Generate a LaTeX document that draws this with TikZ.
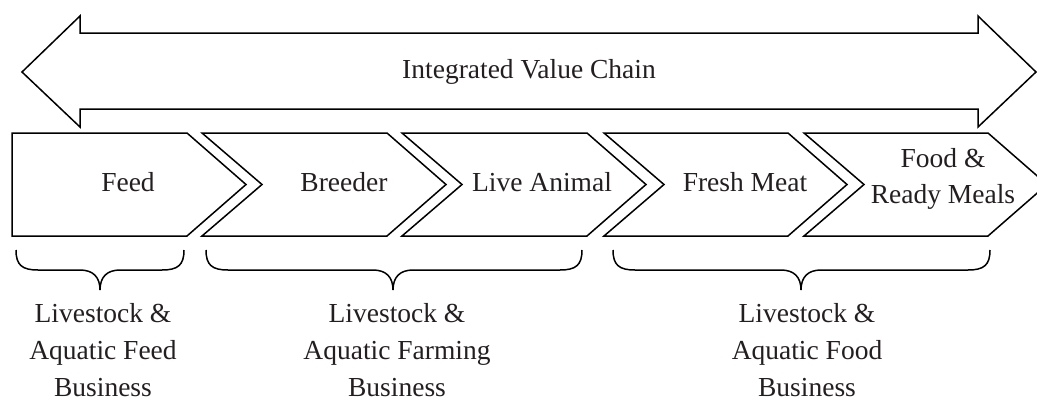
\documentclass[tikz,border=0pt]{standalone}
\usepackage{fontspec}
\setmainfont{Liberation Serif}
\definecolor{txtgray}{HTML}{231F20}
\begin{document}
\begin{tikzpicture}[x=1pt,y=-1pt,line width=1.5pt,line join=miter,
  stage/.style={font=\fontsize{27.5}{36}\selectfont,text=txtgray,align=center},
  biz/.style={font=\fontsize{27.5}{37}\selectfont,text=txtgray,align=center,inner sep=0pt}]
\useasboundingbox (0,0) rectangle (1037,402);
\clip (0,0) rectangle (1037,402);

% double arrow on top
\draw (22,72) -- (80,16) -- (80,33) -- (978,33) -- (978,16) -- (1036,72)
  -- (978,127) -- (978,109) -- (80,109) -- (80,127) -- cycle;
\node[stage] (chain) at (529,72) {Integrated Value Chain};

% chevrons
\draw (12,133) -- (187,133) -- (246,184.5) -- (187,236) -- (12,236) -- cycle;
\foreach \l/\r in {202/387, 402/587, 604/788, 804/988}
  \draw (\l,133) -- (\r,133) -- (\r+59,184.5) -- (\r,236) -- (\l,236) -- (\l+60,184.5) -- cycle;

\node[stage,anchor=base] (feed) at (128,191.5) {Feed};
\node[stage,anchor=base] (breeder) at (344,191.5) {Breeder};
\node[stage,anchor=base] (live) at (542,191) {Live Animal};
\node[stage,anchor=base] (meat) at (745,191) {Fresh Meat};
\node[stage] (meals) at (943,179) {Food \&\\Ready Meals};

% braces
\foreach \a/\m/\b in {16/100/184, 206/393/582, 613/801/990}
  \draw (\a,250) .. controls (\a,265) and (\a+6,270) .. (\a+22,270) -- (\m-20,270)
    .. controls (\m-7,270) and (\m,277) .. (\m,290)
    .. controls (\m,277) and (\m+7,270) .. (\m+20,270) -- (\b-22,270)
    .. controls (\b-6,270) and (\b,265) .. (\b,250);

\node[biz] (feedbiz) at (103,350) {Livestock \&\\Aquatic Feed\\Business};
\node[biz] (farmbiz) at (397,350) {Livestock \&\\Aquatic Farming\\Business};
\node[biz] (foodbiz) at (807,350) {Livestock \&\\Aquatic Food\\Business};
\end{tikzpicture}
\end{document}
